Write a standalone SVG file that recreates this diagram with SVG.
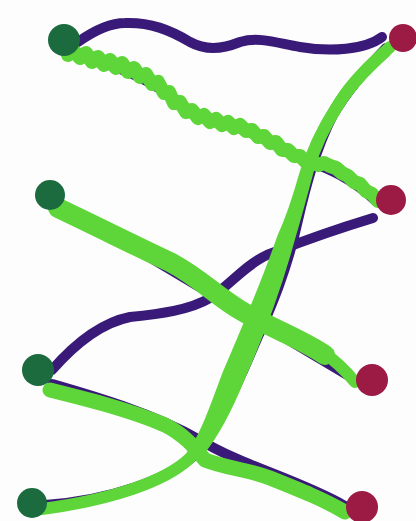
<svg xmlns="http://www.w3.org/2000/svg" width="416" height="521" viewBox="0 0 416 521">
<style>
.p{fill:none;stroke:#3a1a78;stroke-width:10;stroke-linecap:round;stroke-linejoin:round}
.g{fill:none;stroke:#5ed63a;stroke-width:12;stroke-linecap:round;stroke-linejoin:round}
.l{fill:#1b6b3f}
.r{fill:#9b1b45}
</style>
<rect width="416" height="521" fill="#fdfdfd"/>
<g id="connectors">
<path class="p" d="M78,42 C95,30 110,23 125,23 C150,22 170,30 190,42 C205,50 220,50 240,42 C260,36 280,44 300,47 C330,52 365,50 382,37"/>
<path class="p" d="M386,48 C360,75 345,95 333,115 C315,150 305,190 298,220 C285,280 265,320 250,355 C235,390 215,430 198,452 C170,480 110,500 45,505"/>
<path class="p" d="M373,218 C340,228 300,242 267,255 C245,265 230,285 210,298 C190,310 160,314 130,317 C105,322 80,338 52,370"/>
<path class="p" d="M52,384 C90,395 150,412 200,440 C240,465 300,480 345,506"/>
<path class="p" style="stroke-width:6" d="M72,55 C120,70 150,80 177,105 C200,120 240,125 283,152 C310,166 340,170 375,203"/>
<path class="p" style="stroke-width:6" d="M58,205 L355,382"/>
<polyline class="g" style="stroke-width:14" points="68,55 74,51 80,58 86,53 92,62 98,57 104,65 110,60 116,68 122,63 128,72 134,68 140,77 146,74 152,84 158,82 164,93 169,92 174,103 180,102 186,112 192,110 198,118 204,115 210,122 216,119 222,125 228,122 234,128 240,125 246,131 252,130 258,137 264,136 270,143 276,142 282,150 288,150 294,156 300,156 306,162 312,161 318,165 324,163 330,166 336,168 342,173 348,176 354,182 360,184 366,191 372,194 378,201"/>
<path class="g" d="M390,47 C370,65 352,82 340,102 C325,125 315,145 308,170 C300,200 296,215 290,235 C275,290 260,330 240,375 C228,405 212,435 198,452"/>
<path class="g" d="M385,52 C365,70 348,88 336,108 C322,130 312,150 305,175 C298,200 292,218 283,238 C265,290 245,335 228,375 C215,410 205,440 190,458 C165,482 110,500 42,509"/>
<path class="g" style="stroke-width:20" d="M58,208 C100,228 140,248 170,262 C200,278 215,295 240,310 C270,328 300,338 325,355"/>
<path class="g" d="M320,350 C335,360 345,370 355,382"/>
<path class="g" style="stroke-width:15" d="M50,390 C90,400 130,410 165,425 C185,435 195,448 205,460 C225,468 250,470 270,478 C300,490 325,500 345,512"/>
</g>
<g id="L1"><circle class="l" cx="64" cy="40" r="16"/></g>
<g id="R1"><circle class="r" cx="403" cy="38" r="14"/></g>
<g id="L2"><circle class="l" cx="50" cy="195" r="15"/></g>
<g id="R2"><circle class="r" cx="391" cy="200" r="15"/></g>
<g id="L3"><circle class="l" cx="38" cy="370" r="16"/></g>
<g id="R3"><circle class="r" cx="372" cy="380" r="16"/></g>
<g id="L4"><circle class="l" cx="32" cy="503" r="15"/></g>
<g id="R4"><circle class="r" cx="362" cy="507" r="16"/></g>
</svg>
